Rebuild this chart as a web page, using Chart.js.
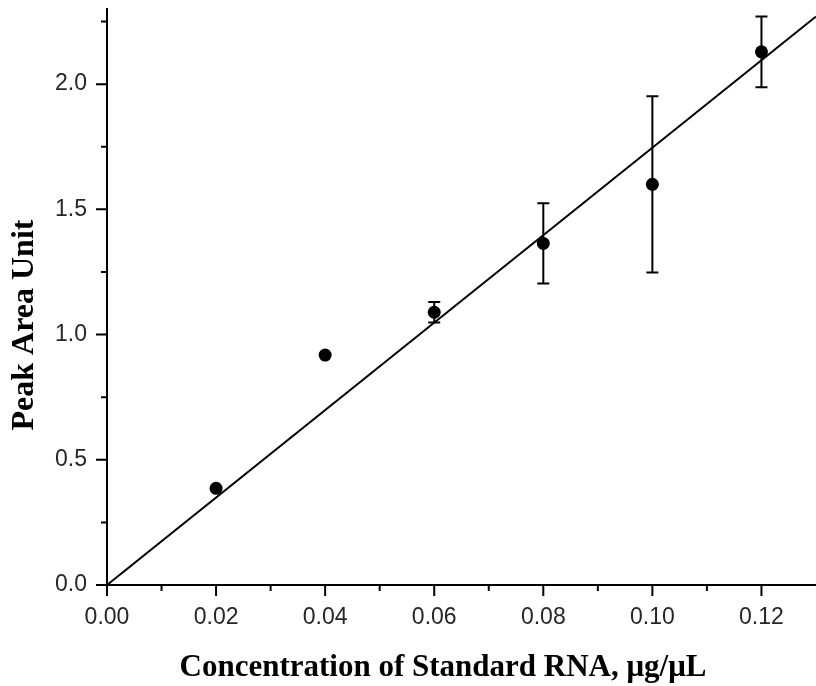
<!DOCTYPE html>
<html>
<head>
<meta charset="utf-8">
<script src="https://cdn.jsdelivr.net/npm/chart.js@4/dist/chart.umd.min.js"></script>
<style>
  html, body { margin: 0; padding: 0; background: #fff; }
  #wrap { width: 816px; height: 686px; position: relative; }
</style>
</head>
<body>
<div id="wrap"><canvas id="c"></canvas></div>
<script>
// ---- data ----
const concentration = [0.02, 0.04, 0.06, 0.08, 0.10, 0.12];
const peakArea = [0.386, 0.918, 1.089, 1.364, 1.600, 2.129];
const peakAreaError = [0, 0, 0.041, 0.160, 0.352, 0.141];
const fitX = [0, 0.13];
const fitY = [0, 2.27];
const xTickValues = [0, 0.02, 0.04, 0.06, 0.08, 0.10, 0.12];
const xMinorTickValues = [0.01, 0.03, 0.05, 0.07, 0.09, 0.11, 0.13];
const yTickValues = [0, 0.5, 1.0, 1.5, 2.0];
const yMinorTickValues = [0.25, 0.75, 1.25, 1.75, 2.25];
const xTitle = 'Concentration of Standard RNA, μg/μL';
const yTitle = 'Peak Area Unit';

const pointData = concentration.map((x, i) => ({ x: x, y: peakArea[i] }));
const fitData = fitX.map((x, i) => ({ x: x, y: fitY[i] }));

const axesPlugin = {
  id: 'axesExtras',
  afterDatasetsDraw(chart) {
    const ctx = chart.ctx;
    const xs = chart.scales.x, ys = chart.scales.y;
    ctx.save();
    ctx.strokeStyle = '#000';
    ctx.lineWidth = 2;
    concentration.forEach((x, i) => {
      const e = peakAreaError[i];
      if (!e) return;
      const px = xs.getPixelForValue(x);
      const top = ys.getPixelForValue(peakArea[i] + e);
      const bot = ys.getPixelForValue(peakArea[i] - e);
      ctx.beginPath();
      ctx.moveTo(px, top); ctx.lineTo(px, bot);
      ctx.moveTo(px - 6, top); ctx.lineTo(px + 6, top);
      ctx.moveTo(px - 6, bot); ctx.lineTo(px + 6, bot);
      ctx.stroke();
    });
    ctx.restore();
  },
  afterDraw(chart) {
    const ctx = chart.ctx;
    const xs = chart.scales.x, ys = chart.scales.y;
    const area = chart.chartArea;
    ctx.save();
    ctx.strokeStyle = '#000';
    ctx.lineWidth = 2;
    ctx.beginPath();
    xTickValues.forEach(v => {
      const p = xs.getPixelForValue(v);
      ctx.moveTo(p, area.bottom); ctx.lineTo(p, area.bottom + 11);
    });
    xMinorTickValues.forEach(v => {
      const p = xs.getPixelForValue(v);
      if (p > area.right - 1) return;
      ctx.moveTo(p, area.bottom); ctx.lineTo(p, area.bottom + 6);
    });
    yTickValues.forEach(v => {
      const p = ys.getPixelForValue(v);
      ctx.moveTo(area.left, p); ctx.lineTo(area.left - 11, p);
    });
    yMinorTickValues.forEach(v => {
      const p = ys.getPixelForValue(v);
      ctx.moveTo(area.left, p); ctx.lineTo(area.left - 6, p);
    });
    ctx.stroke();

    // axis titles
    ctx.fillStyle = '#000';
    ctx.textAlign = 'center';
    ctx.textBaseline = 'alphabetic';
    ctx.font = 'bold 31px "Liberation Serif", "Times New Roman", serif';
    ctx.fillText(xTitle, 443, 676);
    ctx.translate(33, 325);
    ctx.rotate(-Math.PI / 2);
    ctx.font = 'bold 32px "Liberation Serif", "Times New Roman", serif';
    ctx.fillText(yTitle, 0, 0);
    ctx.restore();
  }
};

function zeroPad(s) {
  s.paddingTop = 0; s.paddingBottom = 0; s.paddingLeft = 0; s.paddingRight = 0;
}

new Chart(document.getElementById('c'), {
  type: 'scatter',
  data: {
    datasets: [
      {
        label: 'Fit',
        data: fitData,
        showLine: true,
        borderColor: '#000',
        borderWidth: 2,
        pointRadius: 0,
        pointHoverRadius: 0,
        fill: false
      },
      {
        label: 'Peak Area',
        data: pointData,
        backgroundColor: '#000',
        borderColor: '#000',
        pointRadius: 6.5,
        pointBorderWidth: 0
      }
    ]
  },
  options: {
    responsive: true,
    maintainAspectRatio: false,
    animation: false,
    events: [],
    layout: { autoPadding: false, padding: { top: 9, right: 0, left: 0, bottom: 0 } },
    plugins: { legend: { display: false }, tooltip: { enabled: false } },
    scales: {
      x: {
        type: 'linear',
        min: 0,
        max: 0.13,
        grid: { display: false, drawTicks: false },
        border: { display: true, color: '#000', width: 2 },
        ticks: {
          stepSize: 0.02,
          includeBounds: false,
          padding: 19,
          color: '#262626',
          font: { family: '"Liberation Sans", Arial, sans-serif', size: 23 },
          maxRotation: 0,
          callback: v => Number(v).toFixed(2)
        },
        title: { display: false, text: xTitle },
        afterFit: s => { s.height = 101; zeroPad(s); }
      },
      y: {
        type: 'linear',
        min: 0,
        max: 2.3,
        grid: { display: false, drawTicks: false },
        border: { display: true, color: '#000', width: 2 },
        ticks: {
          stepSize: 0.5,
          includeBounds: false,
          padding: 20,
          color: '#262626',
          font: { family: '"Liberation Sans", Arial, sans-serif', size: 23 },
          callback: v => Number(v).toFixed(1)
        },
        title: { display: false, text: yTitle },
        afterFit: s => { s.width = 107; zeroPad(s); }
      }
    }
  },
  plugins: [axesPlugin]
});
</script>
</body>
</html>
